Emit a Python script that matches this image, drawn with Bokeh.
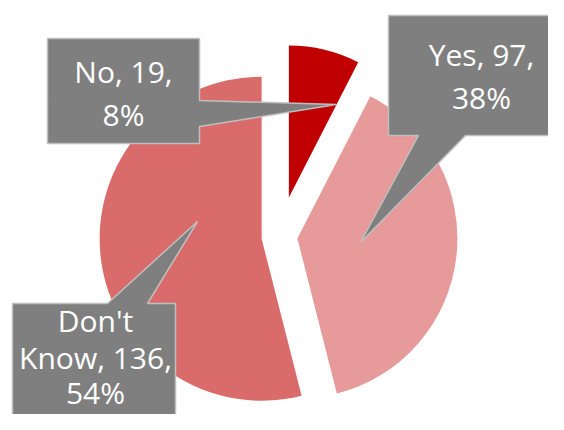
import math
from bokeh.plotting import figure
from bokeh.models import Range1d
from bokeh.core.properties import value
from bokeh.embed import file_html
from bokeh.resources import INLINE

# ---- data ----
labels = ["No", "Yes", "Don't Know"]
counts = [19, 97, 136]
percents = [8, 38, 54]
colors = ["#C00000", "#E69A9A", "#D96C6B"]

# ---- layout (pixels, top-left origin) ----
PW, PH = 548, 414
pie_cx, pie_cy = 279, 236
explode = [40, 18, 18]
radii = [152, 160, 162]

def Y(y):
    return PH - y

p = figure(width=PW, height=PH, output_backend="svg", toolbar_location=None,
           x_range=Range1d(0, PW), y_range=Range1d(0, PH), min_border=0)
p.axis.visible = False
p.grid.visible = False
p.outline_line_color = None
p.background_fill_color = "white"
p.border_fill_color = "white"

total = sum(counts)
acc = 0.0
xs, ys, starts, ends = [], [], [], []
for c, d in zip(counts, explode):
    t1 = acc / total * 360.0
    t2 = (acc + c) / total * 360.0
    acc += c
    tm = math.radians((t1 + t2) / 2)
    xs.append(pie_cx + d * math.sin(tm))
    ys.append(Y(pie_cy - d * math.cos(tm)))
    starts.append(math.radians(90 - t2))
    ends.append(math.radians(90 - t1))

for i in range(len(counts)):
    p.wedge(x=xs[i], y=ys[i], radius=radii[i], start_angle=starts[i], end_angle=ends[i],
            direction="anticlock", fill_color=colors[i], line_color=None)

# callout shapes: box with pointer
callouts = [
    [(47, 38), (199, 38), (199, 100), (336, 104), (199, 126), (199, 143), (47, 143)],
    [(388, 15), (562, 15), (562, 135), (465, 135), (360, 242), (418, 135), (388, 135)],
    [(12, 303), (107, 303), (197, 221), (147, 303), (175, 303), (175, 440), (12, 440)],
]
for poly in callouts:
    p.patch([q[0] for q in poly], [Y(q[1]) for q in poly], fill_color="#7F7F7F",
            line_color="#BFBFBF", line_width=1.5)

wrapped = [
    [f"{labels[0]}, {counts[0]},", f"{percents[0]}%"],
    [f"{labels[1]}, {counts[1]},", f"{percents[1]}%"],
    ["Don't", f"Know, {counts[2]},", f"{percents[2]}%"],
]
text_x = [123, 481, 95]
baselines = [[71, 114], [54, 97], [320, 357, 392]]
for lines, tx, bls in zip(wrapped, text_x, baselines):
    p.text(x=[tx] * len(lines), y=[Y(b) for b in bls], text=lines,
           text_font=value("Open Sans"), text_font_size="30px", text_color="white",
           text_align="center", text_baseline="alphabetic")

open("out.html", "w").write(file_html(p, INLINE))
